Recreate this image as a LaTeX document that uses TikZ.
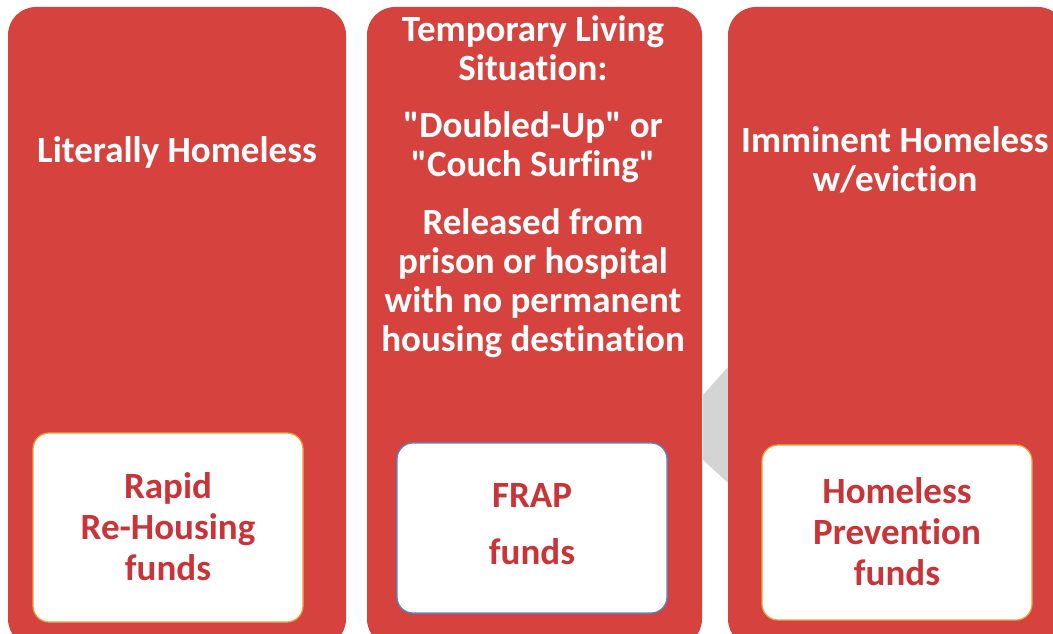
\documentclass[tikz,border=0pt]{standalone}
\usepackage{fontspec}
\setmainfont{Carlito}[Ligatures={NoCommon,TeXOff}]
\definecolor{boxred}{RGB}{214,66,62}
\definecolor{txtred}{RGB}{200,52,55}
\definecolor{arrowgray}{RGB}{212,212,212}
\definecolor{edgeorange}{RGB}{240,160,60}
\definecolor{edgeblue}{RGB}{70,140,210}
\newcommand{\dq}{\symbol{34}}
\tikzset{
  panel/.style={fill=boxred, draw=none, rounded corners=28pt, inner sep=0pt},
  fundbox/.style={fill=white, line width=1.2pt, rounded corners=16pt, inner sep=0pt},
  headtxt/.style={text=white, font=\bfseries\fontsize{37}{39}\selectfont, align=center, inner sep=0pt},
  fundtxt/.style={text=txtred, font=\bfseries\fontsize{37}{41}\selectfont, align=center, inner sep=0pt}
}
\begin{document}
\begin{tikzpicture}[x=1pt,y=-1pt]
\useasboundingbox (0,0) rectangle (1053,634);
\clip (0,0) rectangle (1053,634);
% gray partial arrow between middle and right panels
\fill[arrowgray] (740,368) -- (727,368) -- (703,395) -- (703,460) -- (727,482) -- (740,482) -- cycle;
% panels
\node[panel, minimum width=338pt, minimum height=640pt] (p1) at (177,327) {};
\node[panel, minimum width=335pt, minimum height=640pt] (p2) at (534.5,327) {};
\node[panel, minimum width=338pt, minimum height=640pt] (p3) at (897,327) {};
% fund boxes
\node[fundbox, draw=edgeorange, minimum width=270pt, minimum height=189pt] (f1) at (168,527.5) {};
\node[fundbox, draw=edgeblue, minimum width=270pt, minimum height=170pt] (f2) at (532,528) {};
\node[fundbox, draw=edgeorange, minimum width=270pt, minimum height=175pt] (f3) at (897,532.5) {};
% headings
\node[headtxt] (h1) at (177,152) {Literally Homeless};
\node[headtxt] (h2a) at (533,48) {Temporary Living\\Situation:};
\node[headtxt] (h2b) at (533,147) {\dq Doubled-Up\dq{} or\\\dq Couch Surfing\dq};
\node[headtxt] (h2c) at (533,283) {Released from\\prison or hospital\\with no permanent\\housing destination};
\node[headtxt] (h3) at (895,160) {Imminent Homeless\\w/eviction};
% fund texts
\node[fundtxt] (t1) at (168,527) {Rapid\\Re-Housing\\funds};
\node[fundtxt, font=\bfseries\fontsize{37}{57}\selectfont] (t2) at (532,524) {FRAP\\funds};
\node[fundtxt] (t3) at (897,532) {Homeless\\Prevention\\funds};
\end{tikzpicture}
\end{document}
